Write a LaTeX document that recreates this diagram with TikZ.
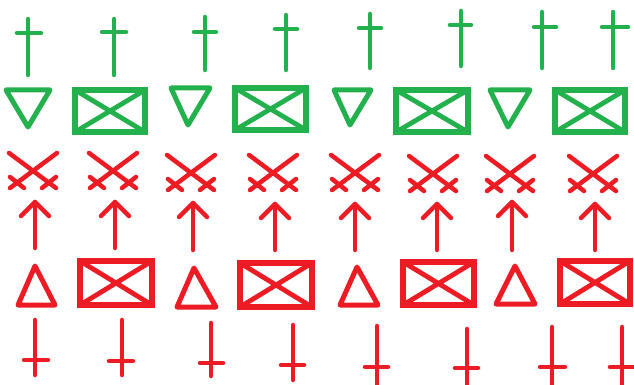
\documentclass[tikz,border=0pt]{standalone}
\definecolor{paintGreen}{HTML}{22B14C}
\definecolor{paintRed}{HTML}{ED1C24}
\tikzset{
  symline/.style={line width=4.5pt,line cap=round,line join=round},
  symframe/.style={line width=5.5pt,line join=miter},
  symdiag/.style={line width=4.8pt},
  symtri/.style={line width=5pt,line join=round},
  gline/.style={symline,draw=paintGreen},
  rline/.style={symline,draw=paintRed},
  gframe/.style={symframe,draw=paintGreen},
  rframe/.style={symframe,draw=paintRed},
  gdiag/.style={symdiag,draw=paintGreen},
  rdiag/.style={symdiag,draw=paintRed},
  gtri/.style={symtri,draw=paintGreen},
  rtri/.style={symtri,draw=paintRed}
}

\begin{document}
\begin{tikzpicture}[x=1pt,y=-1pt]
    \fill[white] (0,0) rectangle (634,385);
    \clip (0,0) rectangle (634,385);

    % green crosses (top row)
    \foreach \cx/\ya/\yb/\yh/\xa/\xb in {28/19/75/33/17/41, 114/19/75/32/102/126,
        205/17/70/32/194/216, 286/15/70/29/275/297, 370/14/68/28/359/381,
        461/11/66/25/450/471, 542/12/68/27/534/556, 613/12/68/27/602/628} {
      \draw[gline] (\cx,\ya) -- (\cx,\yb);
      \draw[gline] (\xa,\yh) -- (\xb,\yh);
    }

    % green triangles, pointing down
    \foreach \xa/\xb/\ya/\tx/\ty in {6/50/90/28/127, 171/210/88/188/125,
        334/371/90/350/125, 490/530/90/508/127} {
      \draw[gtri] (\xa,\ya) -- (\xb,\ya) -- (\tx,\ty) -- cycle;
    }

    % green boxes with crossed diagonals
    \foreach \xa/\xb/\ya/\yb in {75/145/90/132, 235/306/88/130,
        396/468/90/132, 555/625/90/132} {
      \draw[gdiag] (\xa,\ya) -- (\xb,\yb) (\xb,\ya) -- (\xa,\yb);
      \draw[gframe] (\xa,\ya) rectangle (\xb,\yb);
    }

    % red crossed marks
    \foreach \cx/\cy in {33/170, 113/170, 191/172, 273/172,
        355/172, 433/173, 510/173, 593/173} {
      \begin{scope}[shift={(\cx,\cy)}]
        \draw[rline] (-24,-17) -- (23,18);
        \draw[rline] (24,-17) -- (-23,18);
        \draw[rline] (-23,7) -- (-9,18);
        \draw[rline] (23,7) -- (9,18);
      \end{scope}
    }

    % red up arrows
    \foreach \cx/\ya/\yb in {35/202/248, 115/202/248, 193/203/250, 275/204/250,
        355/204/250, 437/204/250, 512/202/250, 595/204/250} {
      \draw[rline] (\cx,\yb) -- (\cx,\ya);
      \draw[rline] (\cx-14,\ya+14) -- (\cx,\ya) -- (\cx+14,\ya+14);
    }

    % red triangles, pointing up
    \foreach \ax/\ay/\xa/\xb/\yb in {35/266/18/55/305, 194/268/177/216/307,
        357/267/340/378/305, 515/266/496/535/304} {
      \draw[rtri] (\ax,\ay) -- (\xb,\yb) -- (\xa,\yb) -- cycle;
    }

    % red boxes with crossed diagonals
    \foreach \xa/\xb/\ya/\yb in {80/152/261/305, 240/312/263/307,
        403/474/262/305, 560/630/261/304} {
      \draw[rdiag] (\xa,\ya) -- (\xb,\yb) (\xb,\ya) -- (\xa,\yb);
      \draw[rframe] (\xa,\ya) rectangle (\xb,\yb);
    }

    % red crosses, upside down (bottom row)
    \foreach \cx/\ya/\yb/\yh/\xa/\xb in {35/320/375/360/24/48, 122/320/375/361/109/133,
        211/323/376/363/200/223, 293/325/380/365/281/304, 377/326/390/367/365/388,
        467/329/390/368/455/478, 552/327/390/367/540/565, 622/327/390/367/610/636} {
      \draw[rline] (\cx,\ya) -- (\cx,\yb);
      \draw[rline] (\xa,\yh) -- (\xb,\yh);
    }
  \end{tikzpicture}
\end{document}
